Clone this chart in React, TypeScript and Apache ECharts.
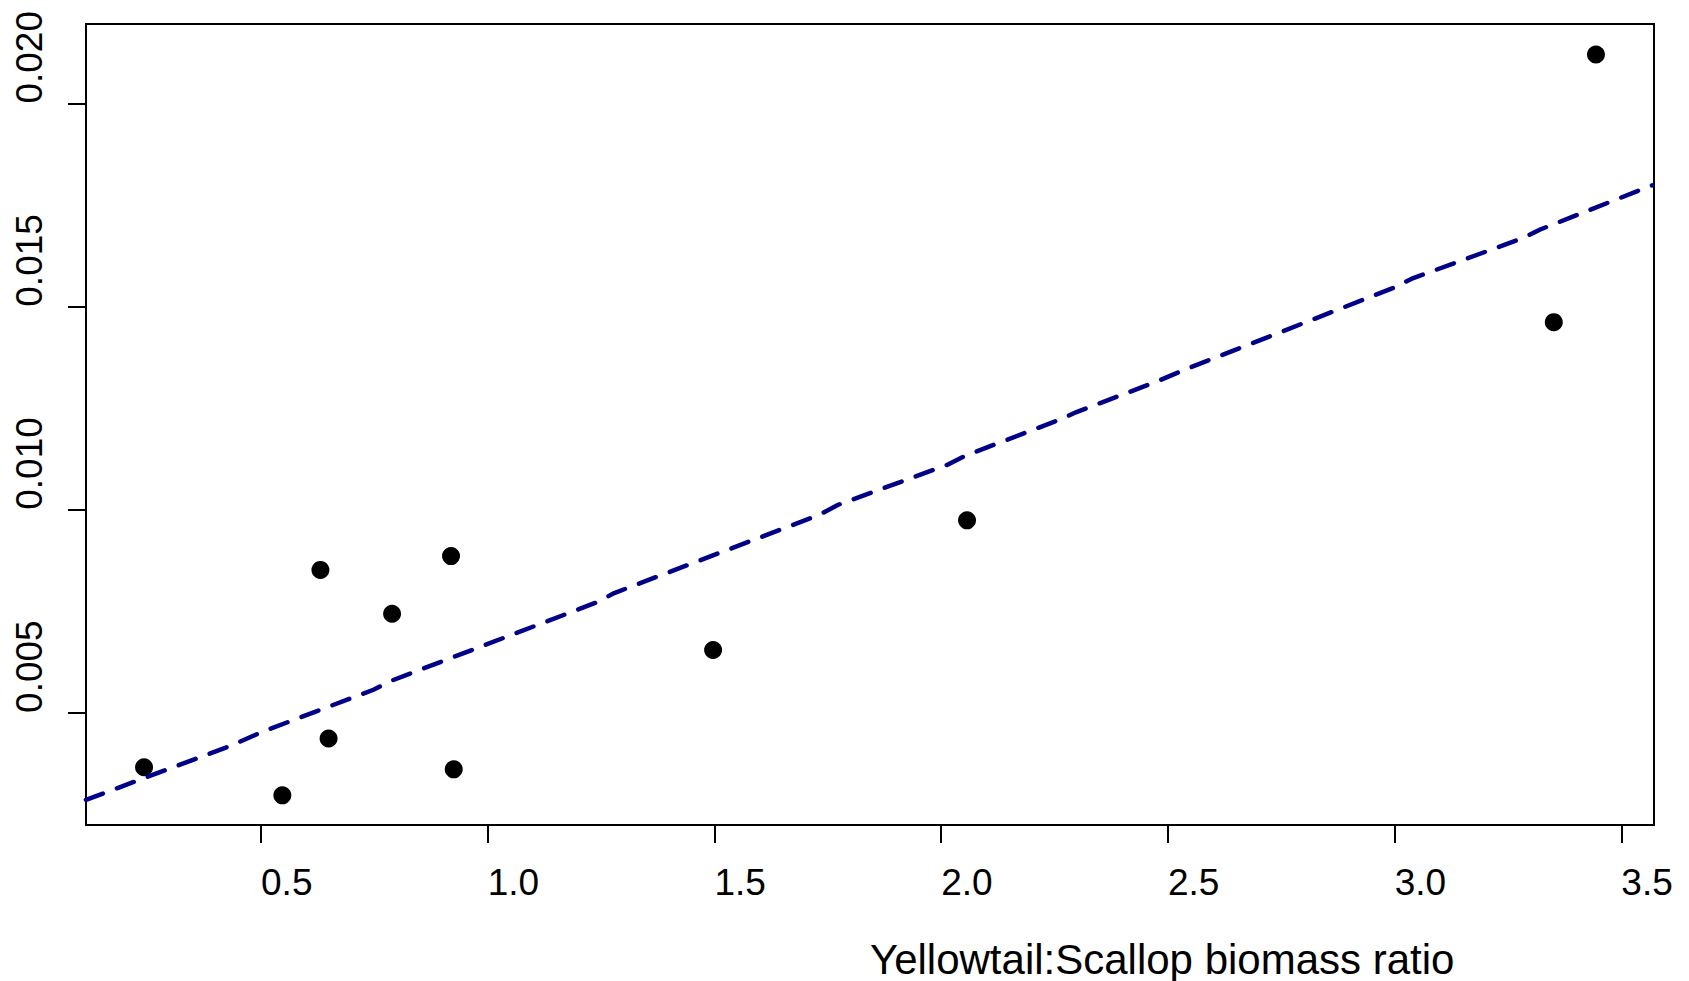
import React, { useEffect, useRef } from "react";
import * as echarts from "echarts";

// Observed points (Yellowtail:Scallop biomass ratio vs. rate)
const ratioX = [0.242, 0.547, 0.631, 0.649, 0.789, 0.919, 0.925, 1.497, 2.057, 3.351, 3.444];
const rateY = [0.00366, 0.00297, 0.00852, 0.00437, 0.00744, 0.00886, 0.00361, 0.00655, 0.00974, 0.01462, 0.02121];

// Fitted (dashed) line
const fitX = [0.114, 0.433, 0.504, 0.748, 0.787, 1.24, 1.279, 1.732, 1.772, 2.014, 2.053, 2.266, 2.297, 2.476, 2.546, 2.999, 3.038, 3.283, 3.321, 3.568];
const fitY = [0.00286, 0.00419, 0.00454, 0.00557, 0.00579, 0.00772, 0.00795, 0.00988, 0.01012, 0.01111, 0.01133, 0.01224, 0.0124, 0.01316, 0.01349, 0.01547, 0.01569, 0.01669, 0.0169, 0.01799];

// Axis ticks
const xTicks = [0.5, 1.0, 1.5, 2.0, 2.5, 3.0, 3.5];
const yTicks = [0.005, 0.01, 0.015, 0.02];
const xRange = [0.114, 3.572];
const yRange = [0.00224, 0.02196];
const xTitle = "Yellowtail:Scallop biomass ratio";

const FONT = '"Liberation Sans", Arial, Helvetica, sans-serif';

export default function App() {
  const ref = useRef<HTMLDivElement>(null);

  useEffect(() => {
    if (!ref.current) return;
    const chart = echarts.init(ref.current, undefined, { renderer: "svg" });
    const points = ratioX.map((x, i) => [x, rateY[i]]);
    const fit = fitX.map((x, i) => [x, fitY[i]]);

    chart.setOption({
      animation: false,
      backgroundColor: "#ffffff",
      grid: {
        left: 86,
        right: 35,
        top: 24,
        bottom: 156,
        show: true,
        borderColor: "#000000",
        borderWidth: 2,
        backgroundColor: "transparent",
      },
      xAxis: {
        type: "value",
        min: xRange[0],
        max: xRange[1],
        splitLine: { show: false },
        axisLine: { show: false, onZero: false },
        axisTick: {
          show: true,
          inside: false,
          length: 18,
          customValues: xTicks,
          lineStyle: { color: "#000000", width: 2 },
        },
        axisLabel: {
          customValues: xTicks,
          formatter: (v: number) => v.toFixed(1),
          align: "left",
          margin: 39,
          fontSize: 37,
          fontFamily: FONT,
          color: "#000000",
        },
      },
      yAxis: {
        type: "value",
        min: yRange[0],
        max: yRange[1],
        splitLine: { show: false },
        axisLine: { show: false, onZero: false },
        axisTick: {
          show: true,
          inside: false,
          length: 18,
          customValues: yTicks,
          lineStyle: { color: "#000000", width: 2 },
        },
        axisLabel: {
          customValues: yTicks,
          formatter: (v: number) => v.toFixed(3),
          rotate: 90,
          align: "left",
          verticalAlign: "middle",
          margin: 57,
          fontSize: 37,
          fontFamily: FONT,
          color: "#000000",
        },
      },
      graphic: [
        {
          type: "text",
          x: 870,
          y: 959,
          style: {
            text: xTitle,
            fontSize: 42,
            fontFamily: FONT,
            fill: "#000000",
            verticalAlign: "middle",
            align: "left",
          },
        },
      ],
      series: [
        {
          type: "scatter",
          data: points,
          symbol: "circle",
          symbolSize: 18,
          itemStyle: { color: "#000000", opacity: 1 },
          z: 2,
        },
        {
          type: "line",
          data: fit,
          showSymbol: false,
          symbol: "none",
          clip: true,
          lineStyle: { color: "#00008B", width: 4.5, type: [18, 15], cap: "round", opacity: 1 },
          z: 3,
        },
      ],
    });

    return () => chart.dispose();
  }, []);

  return (
    <div
      ref={ref}
      style={{ position: "fixed", left: 0, top: 0, width: 1689, height: 981, background: "#fff" }}
    />
  );
}
